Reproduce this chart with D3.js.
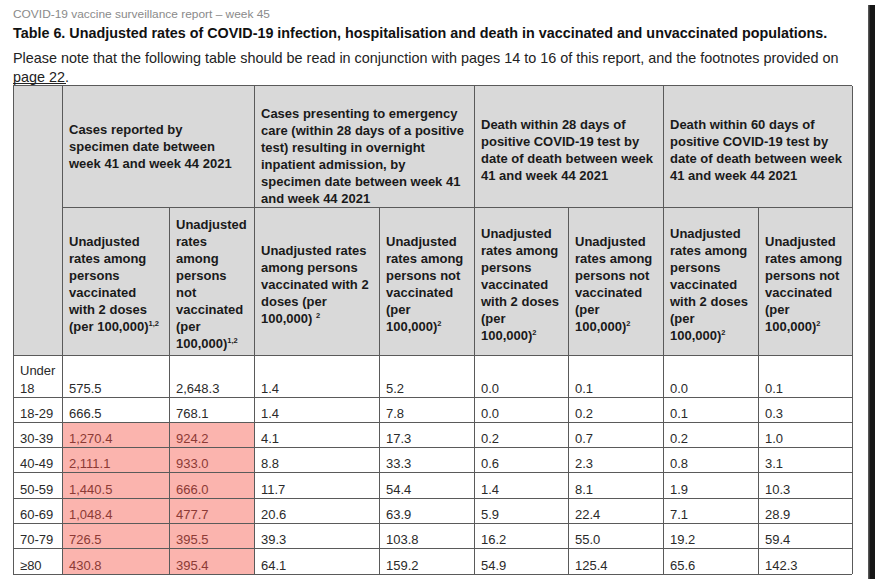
<!DOCTYPE html>
<html>
<head>
<meta charset="utf-8">
<script src="https://cdn.jsdelivr.net/npm/d3@7"></script>
<style>
  html, body { margin: 0; padding: 0; background: #fff; }
  svg { display: block; font-family: "Liberation Sans", Arial, sans-serif; }
</style>
</head>
<body>
<div id="table"></div>
<script>
// age bands (row labels)
var ageGroups = ["Under 18", "18-29", "30-39", "40-49", "50-59", "60-69", "70-79", "≥80"];

// cases by specimen date, week 41 - 44 2021 (per 100,000)
var casesVax = [575.5, 666.5, 1270.4, 2111.1, 1440.5, 1048.4, 726.5, 430.8];
var casesUnvax = [2648.3, 768.1, 924.2, 933.0, 666.0, 477.7, 395.5, 395.4];

// emergency care -> overnight admission
var emergVax = [1.4, 1.4, 4.1, 8.8, 11.7, 20.6, 39.3, 64.1];
var emergUnvax = [5.2, 7.8, 17.3, 33.3, 54.4, 63.9, 103.8, 159.2];

// death within 28 days of positive test
var death28Vax = [0.0, 0.0, 0.2, 0.6, 1.4, 5.9, 16.2, 54.9];
var death28Unvax = [0.1, 0.2, 0.7, 2.3, 8.1, 22.4, 55.0, 125.4];

// death within 60 days of positive test
var death60Vax = [0.0, 0.1, 0.2, 0.8, 1.9, 7.1, 19.2, 65.6];
var death60Unvax = [0.1, 0.3, 1.0, 3.1, 10.3, 28.9, 59.4, 142.3];

var groupHeaders = [
    ["Cases reported by", "specimen date between", "week 41 and week 44 2021"],
    ["Cases presenting to emergency", "care (within 28 days of a positive", "test) resulting in overnight",
     "inpatient admission, by", "specimen date between week 41", "and week 44 2021"],
    ["Death within 28 days of", "positive COVID-19 test by", "date of death between week", "41 and week 44 2021"],
    ["Death within 60 days of", "positive COVID-19 test by", "date of death between week", "41 and week 44 2021"]
];

// "^" marks a superscript footnote reference
var subHeaders = [
    ["Unadjusted", "rates among", "persons", "vaccinated", "with 2 doses", "(per 100,000)^1,2"],
    ["Unadjusted", "rates", "among", "persons", "not", "vaccinated", "(per", "100,000)^1,2"],
    ["Unadjusted rates", "among persons", "vaccinated with 2", "doses (per", "100,000) ^2"],
    ["Unadjusted", "rates among", "persons not", "vaccinated", "(per", "100,000)^2"],
    ["Unadjusted", "rates among", "persons", "vaccinated", "with 2 doses", "(per", "100,000)^2"],
    ["Unadjusted", "rates among", "persons not", "vaccinated", "(per", "100,000)^2"],
    ["Unadjusted", "rates among", "persons", "vaccinated", "with 2 doses", "(per", "100,000)^2"],
    ["Unadjusted", "rates among", "persons not", "vaccinated", "(per", "100,000)^2"]
];

var series = [casesVax, casesUnvax, emergVax, emergUnvax, death28Vax, death28Unvax, death60Vax, death60Unvax];

// ---- layout ----
var width = 875, height = 579;
var colWidths = [49, 107, 85, 125, 95, 94, 95, 95, 94];
var colEdges = [13].concat(Array.from(d3.cumsum(colWidths), function (c) { return 13 + c; }));
var x = function (i) { return colEdges[i]; };

var headTop = 85.5, groupBottom = 207, headBottom = 355;
var firstRowBottom = 397, tableBottom = 574;

var yRow = d3.scaleBand()
    .domain(ageGroups.slice(1))
    .range([firstRowBottom, tableBottom]);

function rowTop(i) { return i === 0 ? headBottom : yRow(ageGroups[i]); }
function rowBottom(i) { return i === 0 ? firstRowBottom : yRow(ageGroups[i]) + yRow.bandwidth(); }

var fmt = d3.format(",.1f");
var pad = 7, lineH = 17;
var headFill = "#d9d9d9", redFill = "#fbb4ae", lineColor = "#5a5a5a";

var svg = d3.select("#table")
    .append("svg")
    .attr("width", width)
    .attr("height", height);

// page texts
svg.append("text")
    .attr("x", 13).attr("y", 18.3)
    .attr("font-size", 11.4).attr("fill", "#8a8a8a")
    .attr("textLength", 257).attr("lengthAdjust", "spacingAndGlyphs")
    .text("COVID-19 vaccine surveillance report – week 45");

svg.append("text")
    .attr("x", 13).attr("y", 37.5)
    .attr("font-size", 14.35).attr("font-weight", "bold").attr("fill", "#111")
    .text("Table 6. Unadjusted rates of COVID-19 infection, hospitalisation and death in vaccinated and unvaccinated populations.");

svg.append("text")
    .attr("x", 13).attr("y", 62.7)
    .attr("font-size", 14.4).attr("fill", "#222")
    .text("Please note that the following table should be read in conjunction with pages 14 to 16 of this report, and the footnotes provided on");

svg.append("text")
    .attr("x", 13).attr("y", 81.5)
    .attr("font-size", 14.4).attr("fill", "#222")
    .text("page 22.");

svg.append("line")
    .attr("x1", 13).attr("x2", 66)
    .attr("y1", 83.5).attr("y2", 83.5)
    .attr("stroke", "#222").attr("stroke-width", 1);

// header backgrounds
svg.append("rect")
    .attr("x", x(0)).attr("y", headTop)
    .attr("width", x(9) - x(0)).attr("height", headBottom - headTop)
    .attr("fill", headFill);

// highlighted cells: vaccinated case rate above unvaccinated
var hi = ageGroups.map(function (d, i) { return i; })
    .filter(function (i) { return casesVax[i] > casesUnvax[i]; });

svg.append("g").selectAll("rect")
    .data(hi)
    .enter().append("rect")
    .attr("x", x(1))
    .attr("y", function (i) { return rowTop(i); })
    .attr("width", x(3) - x(1))
    .attr("height", function (i) { return rowBottom(i) - rowTop(i) + 1; })
    .attr("fill", redFill);

// multi-line header text
function addLines(g, lines, x0, center, weight) {
    var n = lines.length;
    var first = center - (n - 1) * lineH / 2;
    lines.forEach(function (line, k) {
        var parts = line.split("^");
        var t = g.append("text")
            .attr("x", x0)
            .attr("y", first + k * lineH + 4.6)
            .attr("font-size", 13)
            .attr("font-weight", weight)
            .attr("fill", "#1a1a1a");
        t.append("tspan").text(parts[0]);
        if (parts[1]) {
            t.append("tspan")
                .attr("font-size", 7.5)
                .attr("dy", -5)
                .text(parts[1]);
        }
    });
}

var head = svg.append("g");
groupHeaders.forEach(function (lines, gi) {
    var mid = (headTop + groupBottom) / 2 + (lines.length - 3) * 3.3;
    addLines(head, lines, x(1 + gi * 2) + pad, mid, "bold");
});
subHeaders.forEach(function (lines, ci) {
    var mid = (groupBottom + headBottom) / 2 + 3;
    addLines(head, lines, x(1 + ci) + pad, mid, "bold");
});

// body rows
var body = svg.append("g");
ageGroups.forEach(function (age, i) {
    var base = rowBottom(i) - 4.5;
    var words = age === "Under 18" ? ["Under", "18"] : [age];
    words.forEach(function (w, k) {
        body.append("text")
            .attr("x", x(0) + pad)
            .attr("y", base - (words.length - 1 - k) * 18)
            .attr("font-size", 13)
            .attr("fill", "#2a2a2a")
            .text(w);
    });
    series.forEach(function (s, ci) {
        var red = ci < 2 && hi.indexOf(i) >= 0;
        body.append("text")
            .attr("x", x(1 + ci) + pad)
            .attr("y", base)
            .attr("font-size", 13)
            .attr("fill", red ? "#8c3a35" : "#2a2a2a")
            .text(fmt(s[i]));
    });
});

// grid lines
var grid = svg.append("g")
    .attr("stroke", lineColor)
    .attr("stroke-width", 1)
    .attr("shape-rendering", "crispEdges");

// horizontal
var hLines = [[headTop, 0], [groupBottom, 1], [headBottom, 0]]
    .concat(ageGroups.map(function (d, i) { return [rowBottom(i), 0]; }));
grid.selectAll("line.h")
    .data(hLines)
    .enter().append("line")
    .attr("class", "h")
    .attr("x1", function (d) { return x(d[1]); })
    .attr("x2", x(9))
    .attr("y1", function (d) { return d[0]; })
    .attr("y2", function (d) { return d[0]; });

// vertical: group edges run full height, sub-column edges start under group row
var vLines = d3.range(10).map(function (i) {
    var full = i === 0 || i === 9 || (i % 2 === 1);
    return [i, full ? headTop : groupBottom];
});
grid.selectAll("line.v")
    .data(vLines)
    .enter().append("line")
    .attr("class", "v")
    .attr("x1", function (d) { return x(d[0]); })
    .attr("x2", function (d) { return x(d[0]); })
    .attr("y1", function (d) { return d[1]; })
    .attr("y2", tableBottom);

// dark window edge on the right
svg.append("rect")
    .attr("x", 868).attr("y", 5)
    .attr("width", 7).attr("height", height - 5)
    .attr("fill", "#161616");
svg.append("rect")
    .attr("x", 868).attr("y", 5)
    .attr("width", 1.5).attr("height", height - 5)
    .attr("fill", "#555");
</script>
</body>
</html>
